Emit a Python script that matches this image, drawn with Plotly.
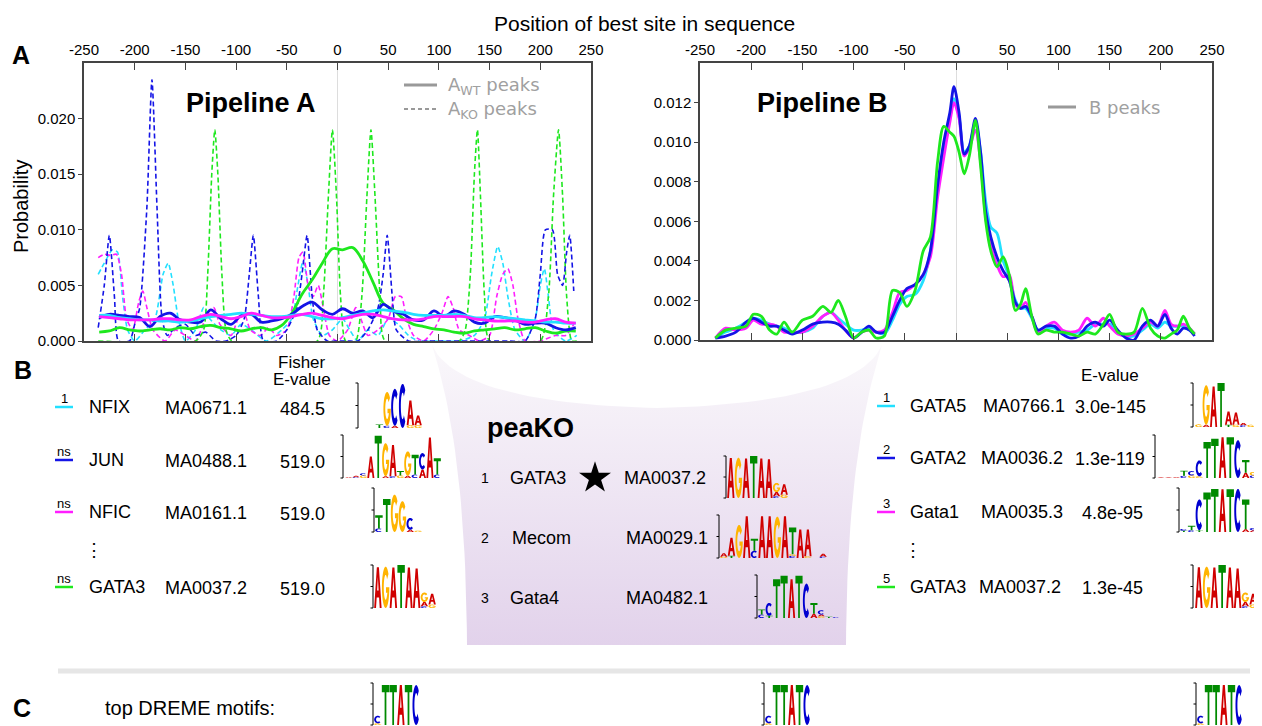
import numpy as np
import plotly.graph_objects as go

W, H = 1262, 726          # reference picture size
OX, OY = 8, 8             # page (body) offset of the figure inside the browser window
FW, FH = W - OX, H - OY   # figure size so that the figure fills the window exactly
FONT = "Liberation Sans"
CYAN, BLUE, MAGENTA, GREEN = "#22e0ff", "#1414e6", "#ff1eff", "#1ee81e"

# ---------------- Pipeline A data ----------------
A_X = list(range(-235, 236, 10))
A_WT_GREEN = [0.0008,0.0009,0.0012,0.0010,0.0009,0.0010,0.0011,0.0010,0.0012,0.0011,0.0013,0.0014,
              0.0012,0.0011,0.0009,0.0011,0.0012,0.0010,0.0014,0.0025,0.0042,0.0055,0.0070,0.0083,
              0.0082,0.0084,0.0072,0.0053,0.0034,0.0028,0.0020,0.0015,0.0013,0.0011,0.0010,0.0008,
              0.0007,0.0009,0.0010,0.0011,0.0012,0.0010,0.0011,0.0012,0.0009,0.0007,0.0009,0.0009]
A_WT_BLUE = [0.0021,0.0024,0.0023,0.0022,0.0021,0.0013,0.0022,0.0025,0.0019,0.0017,0.0017,0.0028,
             0.0020,0.0015,0.0023,0.0024,0.0017,0.0018,0.0020,0.0024,0.0031,0.0035,0.0028,0.0024,
             0.0029,0.0025,0.0027,0.0021,0.0033,0.0027,0.0024,0.0019,0.0019,0.0027,0.0022,0.0027,
             0.0024,0.0017,0.0016,0.0022,0.0021,0.0019,0.0015,0.0016,0.0016,0.0012,0.0010,0.0012]
A_WT_CYAN = [0.0023,0.0023,0.0021,0.0020,0.0019,0.0019,0.0018,0.0018,0.0017,0.0018,0.0020,0.0022,
             0.0023,0.0024,0.0025,0.0024,0.0023,0.0022,0.0022,0.0023,0.0024,0.0022,0.0020,0.0020,
             0.0021,0.0023,0.0025,0.0027,0.0028,0.0027,0.0026,0.0024,0.0023,0.0023,0.0023,0.0024,
             0.0023,0.0021,0.0021,0.0022,0.0021,0.0020,0.0019,0.0018,0.0017,0.0017,0.0016,0.0016]
A_WT_MAGENTA = [0.0022,0.0021,0.0020,0.0019,0.0019,0.0019,0.0020,0.0020,0.0019,0.0019,0.0022,0.0024,
                0.0022,0.0020,0.0022,0.0025,0.0023,0.0021,0.0021,0.0022,0.0024,0.0025,0.0023,0.0021,
                0.0020,0.0022,0.0024,0.0024,0.0022,0.0020,0.0019,0.0019,0.0020,0.0022,0.0022,0.0022,
                0.0022,0.0020,0.0019,0.0018,0.0018,0.0018,0.0017,0.0017,0.0019,0.0020,0.0017,0.0016]

A_KO_BLUE_X = [-236,-230,-225,-220,-216,-205,-200,-195,-188,-183,-178,-173,-168,-160,-150,-140,-130,-120,
               -110,-100,-92,-87,-83,-78,-73,-60,-50,-40,-35,-30,-25,-20,-10,0,10,20,30,40,45,49,54,58,
               70,90,110,130,150,170,185,195,200,205,212,217,222,226,229,233]
A_KO_BLUE_Y = [0.0012,0.0050,0.0095,0.0040,0.0000,0.0000,0.0015,0.0030,0.0120,0.0235,0.0120,0.0020,0.0005,
               0.0012,0.0015,0.0005,0.0008,0.0000,0.0000,0.0005,0.0020,0.0060,0.0095,0.0040,0.0000,0.0000,
               0.0010,0.0030,0.0060,0.0095,0.0040,0.0010,0.0000,0.0000,0.0000,0.0000,0.0010,0.0030,0.0060,
               0.0095,0.0040,0.0010,0.0000,0.0000,0.0000,0.0000,0.0000,0.0000,0.0000,0.0020,0.0060,0.0100,
               0.0100,0.0060,0.0050,0.0080,0.0095,0.0045]
A_KO_GREEN_X = [-236,-140,-132,-128,-124,-121,-118,-114,-110,-104,-20,-14,-9,-5,-1,3,8,18,24,29,33,37,42,47,
                120,126,131,135,138,141,145,150,200,208,213,218,222,226,231,236]
A_KO_GREEN_Y = [0.0000,0.0000,0.0010,0.0060,0.0150,0.0190,0.0150,0.0060,0.0010,0.0000,0.0000,0.0040,0.0130,
                0.0190,0.0130,0.0040,0.0000,0.0000,0.0040,0.0130,0.0190,0.0130,0.0040,0.0000,0.0000,0.0010,
                0.0060,0.0150,0.0190,0.0130,0.0040,0.0000,0.0000,0.0040,0.0130,0.0190,0.0130,0.0040,0.0000,
                0.0000]
A_KO_CYAN_X = [-236,-230,-222,-217,-212,-207,-200,-190,-180,-172,-167,-162,-157,-150,-140,-132,-126,-115,-105,
               -95,-85,-70,-55,-45,-39,-34,-29,-24,-15,-5,5,12,20,30,40,50,60,70,80,100,120,135,145,152,158,
               163,168,175,185,195,200,204,208,213,225,236]
A_KO_CYAN_Y = [0.0060,0.0070,0.0082,0.0080,0.0040,0.0010,0.0000,0.0010,0.0020,0.0060,0.0070,0.0050,0.0020,
               0.0000,0.0010,0.0030,0.0020,0.0010,0.0005,0.0015,0.0010,0.0000,0.0010,0.0020,0.0050,0.0072,
               0.0050,0.0020,0.0005,0.0010,0.0020,0.0010,0.0000,0.0010,0.0005,0.0020,0.0015,0.0005,0.0000,
               0.0000,0.0000,0.0005,0.0020,0.0060,0.0085,0.0070,0.0040,0.0010,0.0000,0.0020,0.0050,0.0065,
               0.0040,0.0010,0.0000,0.0005]
A_KO_MAGENTA_X = [-236,-230,-224,-218,-213,-208,-202,-196,-192,-188,-182,-170,-160,-150,-140,-128,-122,-116,
                  -105,-98,-92,-86,-76,-68,-60,-50,-43,-38,-34,-29,-24,-19,-14,-8,0,10,18,23,30,40,50,57,63,
                  68,75,85,95,103,109,114,120,130,140,150,157,163,168,173,178,185,200,215,225,233]
A_KO_MAGENTA_Y = [0.0075,0.0078,0.0077,0.0078,0.0060,0.0020,0.0010,0.0035,0.0045,0.0030,0.0010,0.0000,
                  0.0010,0.0005,0.0000,0.0025,0.0030,0.0015,0.0005,0.0020,0.0025,0.0010,0.0005,0.0012,
                  0.0005,0.0010,0.0040,0.0075,0.0080,0.0050,0.0040,0.0050,0.0030,0.0005,0.0000,0.0010,
                  0.0030,0.0020,0.0005,0.0010,0.0020,0.0040,0.0040,0.0020,0.0005,0.0000,0.0010,0.0025,
                  0.0040,0.0030,0.0010,0.0005,0.0000,0.0005,0.0040,0.0060,0.0065,0.0050,0.0020,0.0000,
                  0.0000,0.0005,0.0005,0.0015]

# ---------------- Pipeline B data ----------------
B_X = [-235,-225,-215,-205,-198,-190,-182,-175,-168,-160,-150,-140,-130,-122,-115,-108,-100,-92,-85,-78,
       -70,-62,-55,-48,-40,-32,-25,-18,-12,-6,-2,3,8,13,19,24,29,34,40,46,52,58,63,68,74,80,88,96,104,112,
       120,128,136,144,150,158,166,174,182,190,197,204,210,216,222,228,233]
B_BLUE = [0.0001,0.0002,0.0004,0.0009,0.0011,0.0009,0.0007,0.0007,0.0005,0.0003,0.0005,0.0008,0.0009,
          0.0009,0.0008,0.0005,0.0001,0.0004,0.0007,0.0004,0.0004,0.0012,0.0020,0.0026,0.0028,0.0033,
          0.0045,0.0078,0.0100,0.0115,0.0128,0.0115,0.0094,0.0098,0.0112,0.0095,0.0065,0.0052,0.0042,
          0.0035,0.0030,0.0019,0.0016,0.0017,0.0012,0.0005,0.0007,0.0007,0.0003,0.0001,0.0002,0.0007,
          0.0009,0.0007,0.0010,0.0005,0.0001,0.0000,0.0007,0.0010,0.0007,0.0013,0.0006,0.0003,0.0006,
          0.0005,0.0002]
B_CYAN = [0.0001,0.0004,0.0006,0.0009,0.0011,0.0010,0.0008,0.0007,0.0006,0.0004,0.0004,0.0006,0.0012,
          0.0014,0.0011,0.0008,0.0005,0.0005,0.0006,0.0004,0.0003,0.0010,0.0018,0.0022,0.0023,0.0030,
          0.0045,0.0075,0.0098,0.0112,0.0122,0.0113,0.0095,0.0098,0.0110,0.0095,0.0070,0.0057,0.0054,
          0.0040,0.0032,0.0020,0.0016,0.0016,0.0011,0.0005,0.0006,0.0006,0.0003,0.0003,0.0004,0.0005,
          0.0008,0.0008,0.0008,0.0004,0.0002,0.0002,0.0005,0.0008,0.0006,0.0009,0.0007,0.0007,0.0007,
          0.0005,0.0003]
B_MAGENTA = [0.0001,0.0006,0.0005,0.0006,0.0010,0.0008,0.0008,0.0007,0.0004,0.0004,0.0004,0.0007,0.0012,
             0.0014,0.0010,0.0005,0.0001,0.0004,0.0005,0.0004,0.0005,0.0014,0.0024,0.0025,0.0028,0.0033,
             0.0042,0.0072,0.0092,0.0110,0.0120,0.0112,0.0093,0.0097,0.0106,0.0090,0.0062,0.0048,0.0038,
             0.0032,0.0033,0.0018,0.0016,0.0019,0.0012,0.0004,0.0007,0.0009,0.0005,0.0004,0.0005,0.0011,
             0.0007,0.0011,0.0007,0.0003,0.0002,0.0003,0.0006,0.0009,0.0007,0.0015,0.0008,0.0007,0.0008,
             0.0006,0.0003]
B_GREEN = [0.0001,0.0005,0.0006,0.0007,0.0013,0.0012,0.0005,0.0003,0.0009,0.0004,0.0010,0.0012,0.0017,
           0.0014,0.0020,0.0012,0.0001,0.0004,0.0005,0.0001,0.0002,0.0025,0.0024,0.0017,0.0025,0.0045,
           0.0052,0.0090,0.0108,0.0105,0.0103,0.0095,0.0084,0.0093,0.0111,0.0088,0.0060,0.0045,0.0037,
           0.0042,0.0033,0.0015,0.0018,0.0026,0.0012,0.0003,0.0005,0.0004,0.0004,0.0003,0.0002,0.0004,
           0.0003,0.0008,0.0013,0.0004,0.0003,0.0004,0.0016,0.0006,0.0002,0.0001,0.0003,0.0005,0.0012,
           0.0006,0.0003]

X_TICKS = [-250, -200, -150, -100, -50, 0, 50, 100, 150, 200, 250]
X_TICKTEXT = ["-250", "-200", "-150", "-100", "-50", "0", "50", "100", "150", "200", "250"]
A_YTICKS = [0.0, 0.005, 0.010, 0.015, 0.020]
B_YTICKS = [0.0, 0.002, 0.004, 0.006, 0.008, 0.010, 0.012]

# ---------------- motif tables ----------------
FISHER_ROWS = [  # (rank label, colour, name, id, value)
    ("1", CYAN, "NFIX", "MA0671.1", "484.5"),
    ("ns", BLUE, "JUN", "MA0488.1", "519.0"),
    ("ns", MAGENTA, "NFIC", "MA0161.1", "519.0"),
    ("ns", GREEN, "GATA3", "MA0037.2", "519.0"),
]
PEAKO_ROWS = [("1", "GATA3", "MA0037.2"), ("2", "Mecom", "MA0029.1"), ("3", "Gata4", "MA0482.1")]
CENTRIMO_ROWS = [
    ("1", CYAN, "GATA5", "MA0766.1", "3.0e-145"),
    ("2", BLUE, "GATA2", "MA0036.2", "1.3e-119"),
    ("3", MAGENTA, "Gata1", "MA0035.3", "4.8e-95"),
    ("5", GREEN, "GATA3", "MA0037.2", "1.3e-45"),
]

# sequence logos: columns of (letter, relative height), bottom to top
LOGO_NFIX = [[], [], [("T", 0.08)], [("C", 0.05), ("G", 0.75)], [("A", 0.05), ("C", 0.82)], [("C", 0.98)],
             [("G", 0.06), ("A", 0.55)], [("G", 0.06), ("A", 0.22)]]
LOGO_JUN = [[("A", 0.02)], [("C", 0.02), ("A", 0.03)], [("G", 0.06), ("C", 0.05)], [("A", 0.5)], [("T", 0.98)],
            [("A", 0.04), ("G", 0.77)], [("C", 0.04), ("A", 0.73)], [("G", 0.06), ("T", 0.1)],
            [("A", 0.05), ("G", 0.57)], [("C", 0.08), ("T", 0.46)], [("A", 0.2), ("C", 0.38)], [("A", 0.94)],
            [("C", 0.08), ("T", 0.38)]]
LOGO_NFIC = [[("C", 0.08), ("T", 0.3)], [("T", 0.75)], [("G", 0.85)], [("G", 0.7)], [("A", 0.05), ("C", 0.27)],
             [("G", 0.03)]]
LOGO_GATA3 = [[("A", 0.95)], [("G", 0.96)], [("A", 0.94)], [("T", 1.0)], [("A", 0.94)], [("A", 0.92)],
              [("C", 0.04), ("A", 0.1), ("G", 0.22)], [("G", 0.08), ("A", 0.25)]]
LOGO_MECOM = [[("G", 0.03), ("A", 0.08)], [("T", 0.05), ("A", 0.42)], [("G", 0.77)], [("A", 0.97)],
              [("C", 0.17), ("T", 0.28)], [("A", 0.97)], [("A", 0.97)], [("G", 0.96)], [("A", 0.97)],
              [("C", 0.05), ("G", 0.04), ("T", 0.62)], [("A", 0.66)], [("G", 0.04), ("A", 0.62)], [],
              [("C", 0.03), ("A", 0.07)]]
LOGO_GATA4 = [[("C", 0.08), ("T", 0.12)], [("T", 0.05), ("C", 0.3)], [("T", 0.9)], [("T", 0.98)], [("A", 0.9)],
              [("T", 0.98)], [("C", 0.8)], [("A", 0.1), ("T", 0.25)], [("G", 0.04), ("A", 0.04), ("C", 0.1)],
              [("T", 0.03)], [("C", 0.02)]]
LOGO_GATA5 = [[("G", 0.06)], [("A", 0.05), ("G", 0.9)], [("A", 0.92)], [("T", 1.0)], [("T", 0.05), ("A", 0.3)],
              [("G", 0.05), ("A", 0.28)], [("C", 0.04), ("A", 0.05)], [("G", 0.05)], [("A", 0.06)]]
LOGO_GATA2 = [[("A", 0.01)], [("A", 0.01)], [("A", 0.015)], [("C", 0.05), ("T", 0.12)], [("G", 0.06), ("C", 0.1)],
              [("G", 0.04), ("C", 0.37)], [("T", 0.84)], [("T", 0.91)], [("A", 0.95)], [("T", 0.95)],
              [("C", 0.88)], [("A", 0.12), ("T", 0.3)], [("C", 0.06), ("G", 0.08)], [("C", 0.05)]]
LOGO_GATA1 = [[("T", 0.03), ("C", 0.04)], [("C", 0.04), ("T", 0.1)], [("T", 0.04), ("C", 0.7)], [("T", 0.9)],
              [("T", 0.98)], [("A", 0.97)], [("T", 0.97)], [("C", 0.98)], [("A", 0.06), ("T", 0.68)],
              [("A", 0.04), ("C", 0.05)], [("T", 0.1)]]
LOGO_DREME = [[("G", 0.04), ("C", 0.18)], [("T", 0.95)], [("T", 0.95)], [("A", 0.95)], [("T", 0.95)], [("C", 0.95)]]

LETTER_COLORS = {"A": "#d00000", "C": "#0000d0", "G": "#ffb400", "T": "#008a00"}


def PX(x):
    return (x - OX) / FW


def PY(y):
    return 1 - (y - OY) / FH


# ---------------- figure ----------------
fig = go.Figure()


def cubic(p0, p1, p2, p3, n=30):
    t = np.linspace(0, 1, n)[:, None]
    p0, p1, p2, p3 = map(np.array, (p0, p1, p2, p3))
    return ((1 - t) ** 3) * p0 + 3 * ((1 - t) ** 2) * t * p1 + 3 * (1 - t) * t * t * p2 + (t ** 3) * p3


# purple "funnel" background, in reference-pixel coordinates on a hidden full-page axis pair
funnel = np.vstack([
    cubic((432, 345), (452, 392), (560, 406), (657, 408)),
    cubic((657, 408), (754, 406), (862, 392), (882, 345)),
    cubic((882, 345), (865, 400), (847, 480), (846, 645)),
    [[467, 645]],
    cubic((467, 645), (466, 480), (449, 400), (432, 345)),
])
fig.add_trace(go.Scatter(x=funnel[:, 0], y=funnel[:, 1], mode="lines", fill="toself", xaxis="x3", yaxis="y3",
                         line=dict(width=0, color="rgba(0,0,0,0)"),
                         fillgradient=dict(type="vertical", start=345, stop=645,
                                           colorscale=[[0, "#faf8fb"], [1, "#e2d2eb"]]),
                         showlegend=False, hoverinfo="skip"))
fig.add_trace(go.Scatter(x=[595], y=[478], mode="markers", xaxis="x3", yaxis="y3",
                         marker=dict(symbol="star", size=24, color="black"), showlegend=False, hoverinfo="skip"))

ko_series = [(A_KO_CYAN_X, A_KO_CYAN_Y, CYAN), (A_KO_MAGENTA_X, A_KO_MAGENTA_Y, MAGENTA),
             (A_KO_GREEN_X, A_KO_GREEN_Y, GREEN), (A_KO_BLUE_X, A_KO_BLUE_Y, BLUE)]
for xs, ys, c in ko_series:
    fig.add_trace(go.Scatter(x=xs, y=ys, mode="lines", xaxis="x", yaxis="y",
                             line=dict(color=c, width=1.6, dash="5px,3px", shape="spline", smoothing=0.6),
                             showlegend=False, hoverinfo="skip"))
for ys, c in [(A_WT_GREEN, GREEN), (A_WT_BLUE, BLUE), (A_WT_CYAN, CYAN), (A_WT_MAGENTA, MAGENTA)]:
    fig.add_trace(go.Scatter(x=A_X, y=ys, mode="lines", xaxis="x", yaxis="y",
                             line=dict(color=c, width=2.8, shape="spline"), showlegend=False, hoverinfo="skip"))
for ys, c in [(B_CYAN, CYAN), (B_MAGENTA, MAGENTA), (B_BLUE, BLUE), (B_GREEN, GREEN)]:
    fig.add_trace(go.Scatter(x=B_X, y=ys, mode="lines", xaxis="x2", yaxis="y2",
                             line=dict(color=c, width=2.8, shape="spline", smoothing=0.8),
                             showlegend=False, hoverinfo="skip"))

axis_common = dict(showline=True, linecolor="#444444", linewidth=1.5, showgrid=False, automargin=False,
                   tickfont=dict(family=FONT, size=15, color="black"))
fig.update_layout(
    width=FW, height=FH, margin=dict(l=0, r=0, t=0, b=0, pad=0, autoexpand=False),
    paper_bgcolor="white", plot_bgcolor="rgba(0,0,0,0)",
    xaxis3=dict(domain=[0, 1], range=[OX, W], anchor="y3", visible=False, fixedrange=True, automargin=False),
    yaxis3=dict(domain=[0, 1], range=[H, OY], anchor="x3", visible=False, fixedrange=True, automargin=False),
    xaxis=dict(domain=[PX(84), PX(591)], range=[-250, 250], anchor="y", side="top", tickvals=X_TICKS,
               ticktext=X_TICKTEXT, ticks="inside", ticklen=7, tickcolor="#444444", mirror="ticks",
               zeroline=True, zerolinecolor="#dddddd", zerolinewidth=1, **axis_common),
    yaxis=dict(domain=[PY(341), PY(63)], range=[0, 0.025], anchor="x", tickvals=A_YTICKS,
               ticktext=[f"{v:.3f}" for v in A_YTICKS], ticks="outside", ticklen=4, tickcolor="#444444",
               mirror=True, zeroline=False, **axis_common),
    xaxis2=dict(domain=[PX(700), PX(1212)], range=[-250, 250], anchor="y2", side="top", tickvals=X_TICKS,
                ticktext=X_TICKTEXT, ticks="inside", ticklen=7, tickcolor="#444444", mirror="ticks",
                zeroline=True, zerolinecolor="#dddddd", zerolinewidth=1, **axis_common),
    yaxis2=dict(domain=[PY(340), PY(63)], range=[0, 0.014], anchor="x2", tickvals=B_YTICKS,
                ticktext=[f"{v:.3f}" for v in B_YTICKS], ticks="outside", ticklen=4, tickcolor="#444444",
                mirror=True, zeroline=False, **axis_common),
)

annotations = []
shapes = []


def txt(x, y, s, size=18, color="black", bold=False, xanchor="left", family=FONT, angle=0):
    if bold:
        s = f"<b>{s}</b>"
    annotations.append(dict(x=PX(x), y=PY(y), xref="paper", yref="paper", text=s, showarrow=False,
                            xanchor=xanchor, yanchor="middle", textangle=angle,
                            font=dict(family=family, size=size, color=color)))


def seg(x0, y0, x1, y1, color, width, dash="solid"):
    shapes.append(dict(type="line", xref="paper", yref="paper", x0=PX(x0), x1=PX(x1), y0=PY(y0), y1=PY(y1),
                       line=dict(color=color, width=width, dash=dash)))


def hline(x0, x1, y, color, width=2.5, dash="solid"):
    seg(x0, y, x1, y, color, width, dash)


def ellipse_pts(cx, cy, rx, ry, a0, a1, n):
    a = np.radians(np.linspace(a0, a1, n))
    return list(zip(cx + rx * np.cos(a), cy + ry * np.sin(a)))


GLYPHS = {
    "T": [[(0, 1), (1, 1), (1, 0.82), (0.62, 0.82), (0.62, 0), (0.38, 0), (0.38, 0.82), (0, 0.82)]],
    "A": [[(0, 0), (0.36, 1), (0.64, 1), (1, 0), (0.75, 0), (0.66, 0.26), (0.34, 0.26), (0.25, 0)],
          [(0.40, 0.43), (0.60, 0.43), (0.5, 0.76)]],
    "C": [ellipse_pts(0.5, 0.5, 0.5, 0.5, 45, 315, 30) + ellipse_pts(0.5, 0.5, 0.24, 0.3, 315, 45, 30)],
    "G": [ellipse_pts(0.5, 0.5, 0.5, 0.5, 40, 360, 30) + [(0.55, 0.5), (0.55, 0.37), (0.75, 0.37)]
          + ellipse_pts(0.5, 0.5, 0.25, 0.3, 330, 40, 28)],
}


def logo(columns, x0, x1, ytop, ybot, bracket_x):
    h = ybot - ytop
    seg(bracket_x, ytop, bracket_x, ybot, "black", 1)
    for yy in (ytop, (ytop + ybot) / 2, ybot):
        seg(bracket_x - 2.5, yy, bracket_x, yy, "black", 1)
    cw = (x1 - x0) / len(columns)
    for i, col in enumerate(columns):
        cx0 = x0 + i * cw + 0.02 * cw
        cx1 = x0 + (i + 1) * cw - 0.02 * cw
        base = ybot
        for letter, frac in col:
            lh = frac * h
            parts = []
            for ring in GLYPHS[letter]:
                pts = [(PX(cx0 + u * (cx1 - cx0)), PY(base - v * lh)) for u, v in ring]
                parts.append("M " + " L ".join(f"{px:.5f},{py:.5f}" for px, py in pts) + " Z")
            shapes.append(dict(type="path", xref="paper", yref="paper", path=" ".join(parts),
                               fillcolor=LETTER_COLORS[letter], line=dict(width=0), fillrule="evenodd",
                               layer="above"))
            base -= lh


# ---- panel A texts ----
txt(644, 23, "Position of best site in sequence", size=21, xanchor="center")
txt(21, 55, "A", size=25, bold=True, xanchor="center")
txt(21, 207, "Probability", size=20, xanchor="center", angle=-90)
txt(251, 103, "Pipeline A", size=27, bold=True, xanchor="center")
txt(822, 103, "Pipeline B", size=27, bold=True, xanchor="center")
hline(404, 437, 85, "#999999", width=3)
hline(404, 437, 109, "#999999", width=2, dash="4px,3px")
hline(1048, 1076, 107, "#999999", width=3)
LEG = "DejaVu Sans"
txt(446, 86, "A<sub>WT</sub> peaks", size=18, color="#a0a0a0", family=LEG)
txt(446, 110, "A<sub>KO</sub> peaks", size=18, color="#a0a0a0", family=LEG)
txt(1087, 107, "B peaks", size=18, color="#a0a0a0", family=LEG)

# ---- panel B: Fisher table ----
txt(23, 370, "B", size=25, bold=True, xanchor="center")
txt(302, 362, "Fisher", size=17, xanchor="center")
txt(302, 380, "E-value", size=17, xanchor="center")
row_y = [407, 460, 512, 587]
for (rk, col, name, mid, val), y in zip(FISHER_ROWS, row_y):
    hline(55, 73, y, col, width=2.5)
    txt(64, y - 9, rk, size=13, xanchor="center")
    txt(87, y, name, size=18)
    txt(163, y + 1, mid, size=18)
    txt(302, y + 2, val, size=18, xanchor="center")
txt(94, 550, "⋮", size=18, xanchor="center")
logo(LOGO_NFIX, 360, 422, 383, 428, bracket_x=358)
logo(LOGO_JUN, 345, 441, 435, 478, bracket_x=343)
logo(LOGO_NFIC, 375, 422, 488, 532, bracket_x=374)
logo(LOGO_GATA3, 374, 436, 565, 608, bracket_x=373)

# ---- peaKO panel ----
txt(485, 428, "peaKO", size=27, bold=True)
peako_y = [478, 538, 598]
name_x = [508, 510, 508]
for (rk, name, mid), y, nx in zip(PEAKO_ROWS, peako_y, name_x):
    txt(485, y, rk, size=14, xanchor="center")
    txt(nx, y, name, size=18)
    txt(622 if rk == "1" else 624, y, mid, size=18)
logo(LOGO_GATA3, 727, 788, 456, 498, bracket_x=726)
logo(LOGO_MECOM, 720, 827, 515, 558, bracket_x=719)
logo(LOGO_GATA4, 758, 840, 575, 618, bracket_x=757)

# ---- CentriMo table ----
txt(1110, 375, "E-value", size=17, xanchor="center")
mid_x = [981, 979, 979, 977]
val_x = [1073, 1073, 1080, 1080]
cent_y = [406, 458, 512, 587]
for (rk, col, name, mid, val), y, mx, vx in zip(CENTRIMO_ROWS, cent_y, mid_x, val_x):
    hline(877, 895, y, col, width=2.5)
    txt(886, y - 9, rk, size=13, xanchor="center")
    txt(908, y, name, size=18)
    txt(mx, y, mid, size=18)
    txt(vx, y + 1, val, size=18)
txt(913, 550, "⋮", size=18, xanchor="center")
logo(LOGO_GATA5, 1195, 1262, 383, 427, bracket_x=1193)
logo(LOGO_GATA2, 1157, 1265, 435, 478, bracket_x=1155)
logo(LOGO_GATA1, 1180, 1265, 488, 532, bracket_x=1179)
logo(LOGO_GATA3, 1195, 1257, 565, 608, bracket_x=1193)

# ---- panel C ----
hline(58, 1250, 671, "#e6e6e6", width=5)
txt(22, 708, "C", size=25, bold=True, xanchor="center")
txt(103, 708, "top DREME motifs:", size=20)
for bx in (373, 764, 1196):
    logo(LOGO_DREME, bx + 1, bx + 47, 683, 725, bracket_x=bx)

fig.update_layout(annotations=annotations, shapes=shapes)
fig.write_html("out.html")
